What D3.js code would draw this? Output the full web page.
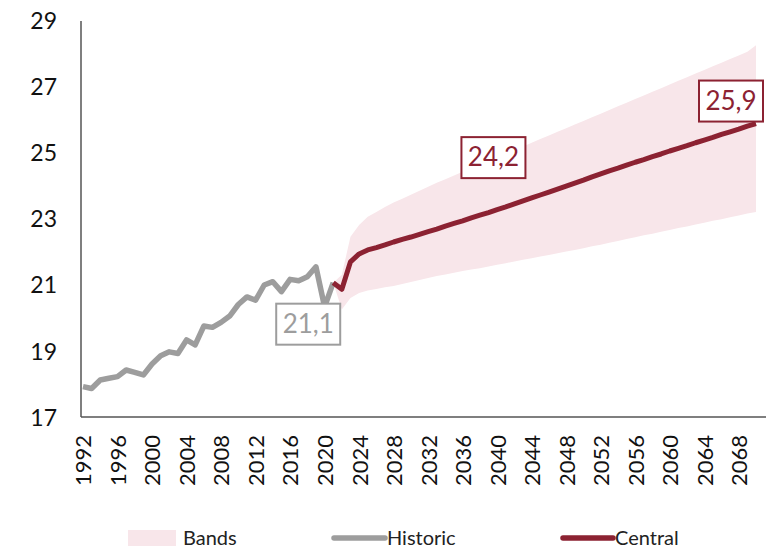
<!DOCTYPE html>
<html>
<head>
<meta charset="utf-8">
<script src="https://cdn.jsdelivr.net/npm/d3@7"></script>
<style>
  body { margin: 0; background: #fff; }
  svg { font-family: Lato, "Open Sans", sans-serif; }
</style>
</head>
<body>
<div id="chart"></div>
<script>
var svgWidth = 775;
var svgHeight = 548;

// historic series, 1992-2021
var histYears = d3.range(1992, 2022);
var histValues = [17.92, 17.86, 18.12, 18.17, 18.22, 18.42, 18.35, 18.27, 18.60, 18.85,
                  18.97, 18.92, 19.33, 19.18, 19.75, 19.71, 19.86, 20.05, 20.40, 20.63,
                  20.53, 20.99, 21.09, 20.79, 21.16, 21.12, 21.24, 21.54, 20.33, 21.06];

// central projection, 2021-2070
var centralYears = d3.range(2021, 2071);
var centralValues = [21.06, 20.86, 21.69, 21.93, 22.05, 22.12, 22.20, 22.29, 22.37, 22.44,
                     22.52, 22.60, 22.68, 22.77, 22.85, 22.93, 23.02, 23.10, 23.18, 23.27,
                     23.35, 23.44, 23.53, 23.62, 23.71, 23.80, 23.89, 23.98, 24.07, 24.16,
                     24.26, 24.35, 24.44, 24.52, 24.61, 24.70, 24.78, 24.87, 24.95, 25.04,
                     25.12, 25.20, 25.29, 25.37, 25.45, 25.54, 25.62, 25.70, 25.79, 25.87];

// bands, 2022-2070
var bandYears = d3.range(2022, 2071);
var bandLow = [20.25, 20.60, 20.75, 20.82, 20.87, 20.92, 20.96, 21.02, 21.08,
               21.14, 21.20, 21.26, 21.31, 21.36, 21.41, 21.46, 21.50, 21.55, 21.60,
               21.65, 21.70, 21.75, 21.80, 21.85, 21.90, 21.95, 22.00, 22.05, 22.10,
               22.16, 22.21, 22.27, 22.32, 22.38, 22.43, 22.49, 22.54, 22.60, 22.65,
               22.71, 22.76, 22.82, 22.87, 22.93, 22.98, 23.04, 23.09, 23.15, 23.20];
var bandHigh = [21.30, 22.45, 22.80, 23.05, 23.20, 23.35, 23.48, 23.60, 23.72,
                23.84, 23.96, 24.08, 24.19, 24.30, 24.41, 24.52, 24.63, 24.74, 24.85,
                24.96, 25.07, 25.18, 25.29, 25.40, 25.51, 25.62, 25.73, 25.84, 25.95,
                26.06, 26.17, 26.28, 26.39, 26.50, 26.61, 26.72, 26.83, 26.94, 27.05,
                27.16, 27.27, 27.38, 27.49, 27.60, 27.71, 27.82, 27.93, 28.04, 28.24];

var yTicks = [17, 19, 21, 23, 25, 27, 29];
var xTicks = d3.range(1992, 2069, 4);

// value labels: year, value, text, series
var labels = [
    {year: 2021, value: 21.06, text: "21,1", series: "hist", dx: -25, dy: 41},
    {year: 2050, value: 24.16, text: "24,2", series: "central", dx: -90, dy: -23},
    {year: 2070, value: 25.87, text: "25,9", series: "central", dx: -25, dy: -23}
];

var colors = {band: "#f8e6ea", hist: "#9d9d9d", central: "#8c2232", axis: "#555555"};

var svg = d3.select("#chart")
    .append("svg")
    .attr("width", svgWidth)
    .attr("height", svgHeight);

var x = d3.scaleLinear().domain([1992, 2070]).range([83, 756]);
var y = d3.scaleLinear().domain([17, 29]).range([417, 20]);

var bandData = bandYears.map((yr, i) => ({year: yr, lo: bandLow[i], hi: bandHigh[i]}));
// band starts from the last historic point
bandData.unshift({year: 2021, lo: 21.06, hi: 21.06});

var area = d3.area()
    .x(d => x(d.year))
    .y0(d => y(d.lo))
    .y1(d => y(d.hi));

svg.append("path")
    .datum(bandData)
    .attr("d", area)
    .attr("fill", colors.band);

var line = d3.line()
    .x(d => x(d[0]))
    .y(d => y(d[1]));

svg.append("path")
    .datum(histYears.map((yr, i) => [yr, histValues[i]]))
    .attr("d", line)
    .attr("fill", "none")
    .attr("stroke", colors.hist)
    .attr("stroke-width", 5.5)
    .attr("stroke-linejoin", "round");

svg.append("path")
    .datum(centralYears.map((yr, i) => [yr, centralValues[i]]))
    .attr("d", line)
    .attr("fill", "none")
    .attr("stroke", colors.central)
    .attr("stroke-width", 5)
    .attr("stroke-linejoin", "round");

// axes
var leftAxis = d3.axisLeft(y).tickValues(yTicks).tickSize(0).tickSizeOuter(0).tickPadding(24);
var yAxis = svg.append("g")
    .attr("transform", "translate(81,0)")
    .call(leftAxis);
yAxis.select(".domain").remove();
yAxis.selectAll("text")
    .attr("font-size", 23)
    .attr("font-family", "Lato, sans-serif")
    .attr("fill", "#111")
    .attr("dy", "0.36em");

var bottomAxis = d3.axisBottom(x).tickValues(xTicks).tickFormat(d3.format("d")).tickSize(0);
var xAxis = svg.append("g")
    .attr("transform", "translate(0,417)")
    .call(bottomAxis);
xAxis.select(".domain").remove();
xAxis.selectAll("text")
    .attr("font-size", 22)
    .attr("font-family", "Lato, sans-serif")
    .attr("fill", "#111")
    .attr("transform", "rotate(-90)")
    .attr("text-anchor", "end")
    .attr("x", -18)
    .attr("y", 0)
    .attr("dy", "0.36em");

// frame lines
svg.append("line")
    .attr("x1", 81).attr("x2", 81).attr("y1", 21).attr("y2", 417)
    .attr("stroke", colors.axis).attr("stroke-width", 1.5);
svg.append("line")
    .attr("x1", 81).attr("x2", 766).attr("y1", 417).attr("y2", 417)
    .attr("stroke", colors.axis).attr("stroke-width", 1.5);

// value boxes
labels.forEach(function(d) {
    var c = colors[d.series];
    var cx = x(d.year) + d.dx;
    var cy = y(d.value) + d.dy;
    var g = svg.append("g").attr("transform", `translate(${cx},${cy})`);
    g.append("rect")
        .attr("x", -32).attr("y", -20)
        .attr("width", 64).attr("height", 41)
        .attr("fill", "#fff")
        .attr("stroke", c)
        .attr("stroke-width", 2);
    g.append("text")
        .attr("text-anchor", "middle")
        .attr("dy", "0.36em")
        .attr("font-size", 26)
        .attr("fill", c)
        .text(d.text);
});

// legend
var legend = svg.append("g").attr("font-size", 20).attr("fill", "#222");
legend.append("rect")
    .attr("x", 128).attr("y", 530).attr("width", 48).attr("height", 16)
    .attr("fill", colors.band);
legend.append("text").attr("x", 183).attr("y", 538).attr("dy", "0.36em").text("Bands");
legend.append("line")
    .attr("x1", 334).attr("x2", 385).attr("y1", 538).attr("y2", 538)
    .attr("stroke", colors.hist).attr("stroke-width", 5.5).attr("stroke-linecap", "round");
legend.append("text").attr("x", 387).attr("y", 538).attr("dy", "0.36em").text("Historic");
legend.append("line")
    .attr("x1", 563).attr("x2", 613).attr("y1", 538).attr("y2", 538)
    .attr("stroke", colors.central).attr("stroke-width", 5.5).attr("stroke-linecap", "round");
legend.append("text").attr("x", 615).attr("y", 538).attr("dy", "0.36em").text("Central");
</script>
</body>
</html>
